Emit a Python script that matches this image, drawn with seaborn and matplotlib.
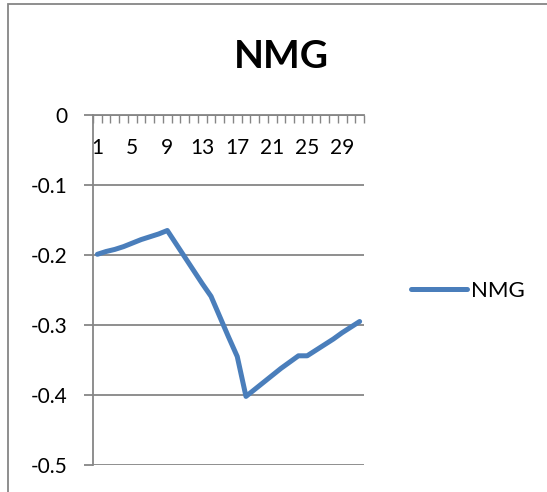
import numpy as np
import pandas as pd
import matplotlib
matplotlib.use("Agg")
import matplotlib.pyplot as plt
from matplotlib.patches import Rectangle
from matplotlib.ticker import FixedLocator, FixedFormatter
import seaborn as sns

# Daily NMG values (categories 1..31)
days = list(range(1, 32))
nmg = [-0.199, -0.195, -0.192, -0.188, -0.183, -0.178, -0.174, -0.170, -0.165,
       -0.184, -0.203, -0.222, -0.241, -0.259, -0.288, -0.317, -0.345, -0.402,
       -0.392, -0.382, -0.372, -0.362, -0.353, -0.344, -0.344, -0.336, -0.328,
       -0.320, -0.311, -0.303, -0.295]
x_labels = ["1", "5", "9", "13", "17", "21", "25", "29"]
x_label_pos = [1, 5, 9, 13, 17, 21, 25, 29]
y_ticks = [0, -0.1, -0.2, -0.3, -0.4, -0.5]
y_labels = ["0", "-0.1", "-0.2", "-0.3", "-0.4", "-0.5"]

df = pd.DataFrame({"day": days, "NMG": nmg})

sns.set_theme(style="white")
plt.rcParams["font.family"] = ["Lato", "DejaVu Sans"]
plt.rcParams["axes.unicode_minus"] = False

W, H = 547, 492
fig = plt.figure(figsize=(W / 100, H / 100), dpi=100)
fig.patch.set_facecolor("white")

# chart area frame
fig.add_artist(Rectangle((8 / W, -0.2), 1.5, 1.2 - 4 / H, transform=fig.transFigure,
                         fill=False, edgecolor="#868686", linewidth=1.3, clip_on=False))

ax = fig.add_axes([93 / W, 1 - 465 / H, (364 - 93) / W, (465 - 115) / H])
ax.set_facecolor("white")

grid_c = "#868686"
sns.lineplot(data=df, x="day", y="NMG", ax=ax, color="#4A7EBB", linewidth=3.6,
             label="NMG", solid_capstyle="round", solid_joinstyle="round", clip_on=False)

ax.set_xlim(0.5, 31.5)
ax.set_ylim(-0.5, 0)

# value axis
ax.yaxis.set_major_locator(FixedLocator(y_ticks))
ax.yaxis.set_major_formatter(FixedFormatter(y_labels))
ax.yaxis.grid(True, color=grid_c, linewidth=1.3)
ax.tick_params(axis="y", which="major", direction="out", length=6.5, width=1.3,
               color=grid_c, left=True, labelsize=15, labelcolor="black", pad=12)

# category axis sits at y = 0 (top), labels below it
ax.xaxis.set_major_locator(FixedLocator(x_label_pos))
ax.xaxis.set_major_formatter(FixedFormatter(x_labels))
ax.xaxis.set_minor_locator(FixedLocator(np.arange(0.5, 32, 1.0)))
ax.tick_params(axis="x", which="major", top=True, bottom=False, labeltop=True,
               labelbottom=False, length=0, labelsize=15, labelcolor="black", pad=-31)
ax.tick_params(axis="x", which="minor", top=True, bottom=False, direction="in",
               length=5.5, width=1.0, color=grid_c)
ax.xaxis.grid(False)

for side in ["right", "bottom"]:
    ax.spines[side].set_visible(False)
for side in ["left", "top"]:
    ax.spines[side].set_visible(True)
    ax.spines[side].set_color(grid_c)
    ax.spines[side].set_linewidth(1.3)
ax.set_xlabel("")
ax.set_ylabel("")

leg = ax.legend(loc="center left", bbox_to_anchor=(411 / W, 1 - 291 / H),
                bbox_transform=fig.transFigure, frameon=False, fontsize=16,
                handlelength=2.5, handletextpad=0.2, borderpad=0, borderaxespad=0)
for t in leg.get_texts():
    t.set_color("black")

fig.text(281 / W, 1 - 68 / H, "NMG", ha="center", va="baseline",
         fontsize=28, fontweight="bold", color="black")

fig.savefig("out.png", dpi=100, facecolor="white")
